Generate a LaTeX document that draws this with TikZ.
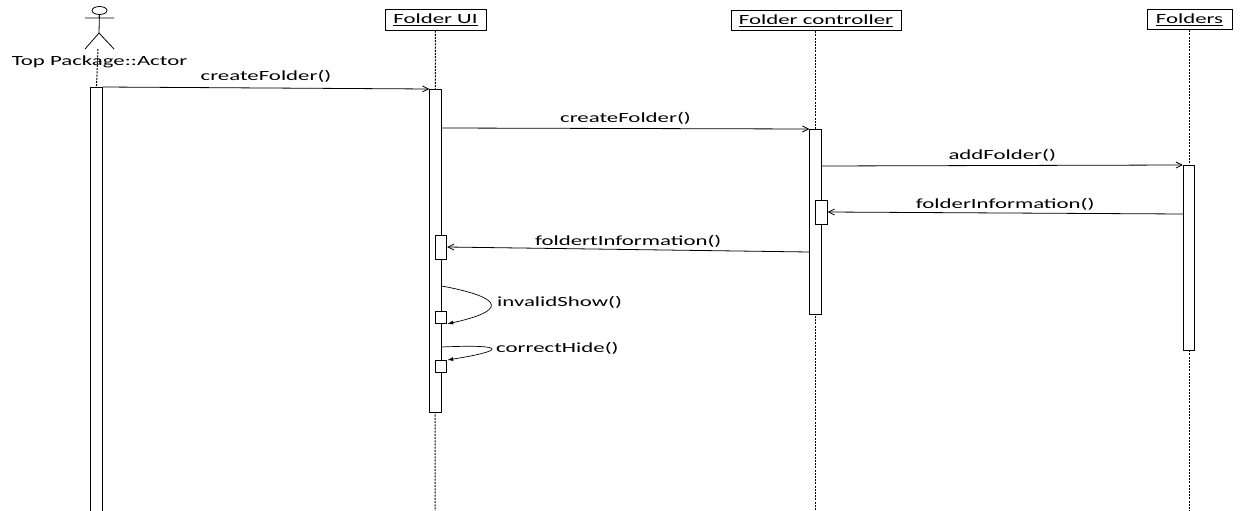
\documentclass[tikz,border=0pt]{standalone}
\usepackage{fontspec}
\setmainfont[FakeStretch=1.63]{Carlito}
\usetikzlibrary{arrows.meta,positioning,shapes.geometric}

\begin{document}
\begin{tikzpicture}[
  x=1pt, y=-1pt,
  head/.style={draw=black, fill=white, line width=0.8pt, minimum height=20.5pt, inner sep=0pt, font=\fontsize{14}{16}\selectfont},
  bar/.style={draw=black, fill=white, line width=0.9pt, minimum width=11.5pt, inner sep=0pt},
  life/.style={dash pattern=on 2pt off 1.2pt, draw=black, line width=1pt},
  msg/.style={-{Straight Barb[length=6pt,width=6pt]}, draw=black, line width=0.8pt},
  selfmsg/.style={-{Latex[length=6pt,width=4pt]}, draw=black, line width=0.7pt},
  label/.style={font=\fontsize{14}{16}\selectfont, inner sep=0pt}
]
\useasboundingbox (0,0) rectangle (1242,511);
% lifeline heads
\node[head, minimum width=101pt] (ui) at (435.5,20) {\underline{Folder UI}};
\node[head, minimum width=170pt] (ctrl) at (816,20.5) {\underline{Folder controller}};
\node[head, minimum width=85pt] (store) at (1189.5,19.5) {\underline{Folders}};
% actor
\node[ellipse, draw=black, line width=0.8pt, minimum width=15pt, minimum height=8pt, inner sep=0pt] (actorhead) at (99.5,10.5) {};
\coordinate (neck) at (99,33);
\coordinate (larm) at (85,18);
\coordinate (rarm) at (114,18);
\coordinate (lfoot) at (85,49);
\coordinate (rfoot) at (114,49);
\draw[line width=0.8pt] (actorhead) -- (neck) (larm) -- (rarm) (lfoot) -- (neck) -- (rfoot);
% lifelines
\coordinate (actorend) at (98,49);
\coordinate (uiend) at (435,511);
\coordinate (ctrlend) at (815,511);
\coordinate (storeend) at (1189,511);
\node[bar, minimum height=430pt, anchor=north] (actorbar) at (96.5,87) {};
\draw[life] (actorend) -- (actorbar.north);
\node[label] (actorname) at (99.5,61.5) {Top Package::Actor};
\draw[life] (ui) -- (uiend);
\draw[life] (ctrl.south -| ctrlend) -- (ctrlend);
\draw[life] (store.south -| storeend) -- (storeend);
% activations
\node[bar, minimum height=323pt, anchor=north] (uibar) at (435.5,89) {};
\node[bar, minimum height=185pt, anchor=north] (ctrlbar) at (815.5,129) {};
\node[bar, minimum height=185pt, anchor=north] (storebar) at (1189,165) {};
\node[bar, minimum height=24pt, anchor=north] (ctrlsub) at (821.5,200) {};
\node[bar, minimum height=24pt, anchor=north] (uisuba) at (441,235) {};
\node[bar, minimum height=12pt, anchor=north] (uisubb) at (441,311) {};
\node[bar, minimum height=12pt, anchor=north] (uisubc) at (441,360) {};
% messages
\draw[msg] (actorbar.north east) -- node[label, above=5pt]{createFolder()} (uibar.north west);
\draw[msg] (uibar.east |- 0,128) -- node[label, above=4pt]{createFolder()} (ctrlbar.north west);
\draw[msg] (ctrlbar.east |- 0,166) -- node[label, above=4pt]{addFolder()} (storebar.north west);
\draw[msg] (storebar.west |- 0,214) -- node[label, above=2pt]{folderInformation()} (ctrlsub.east |- 0,212);
\draw[msg] (ctrlbar.west |- 0,252) -- node[label, above=2pt]{foldertInformation()} (uisuba.east |- 0,247);
% self calls
\draw[selfmsg] (uibar.east |- 0,286) .. controls (506,298) and (506,311) .. (uisubb.south east);
\node[label, anchor=west] (invalid) at (497,302.5) {invalidShow()};
\draw[selfmsg] (uibar.east |- 0,347) .. controls (510,344) and (504,351) .. (uisubc.north east);
\node[label, anchor=west] (correct) at (496,348.5) {correctHide()};
\end{tikzpicture}
\end{document}
